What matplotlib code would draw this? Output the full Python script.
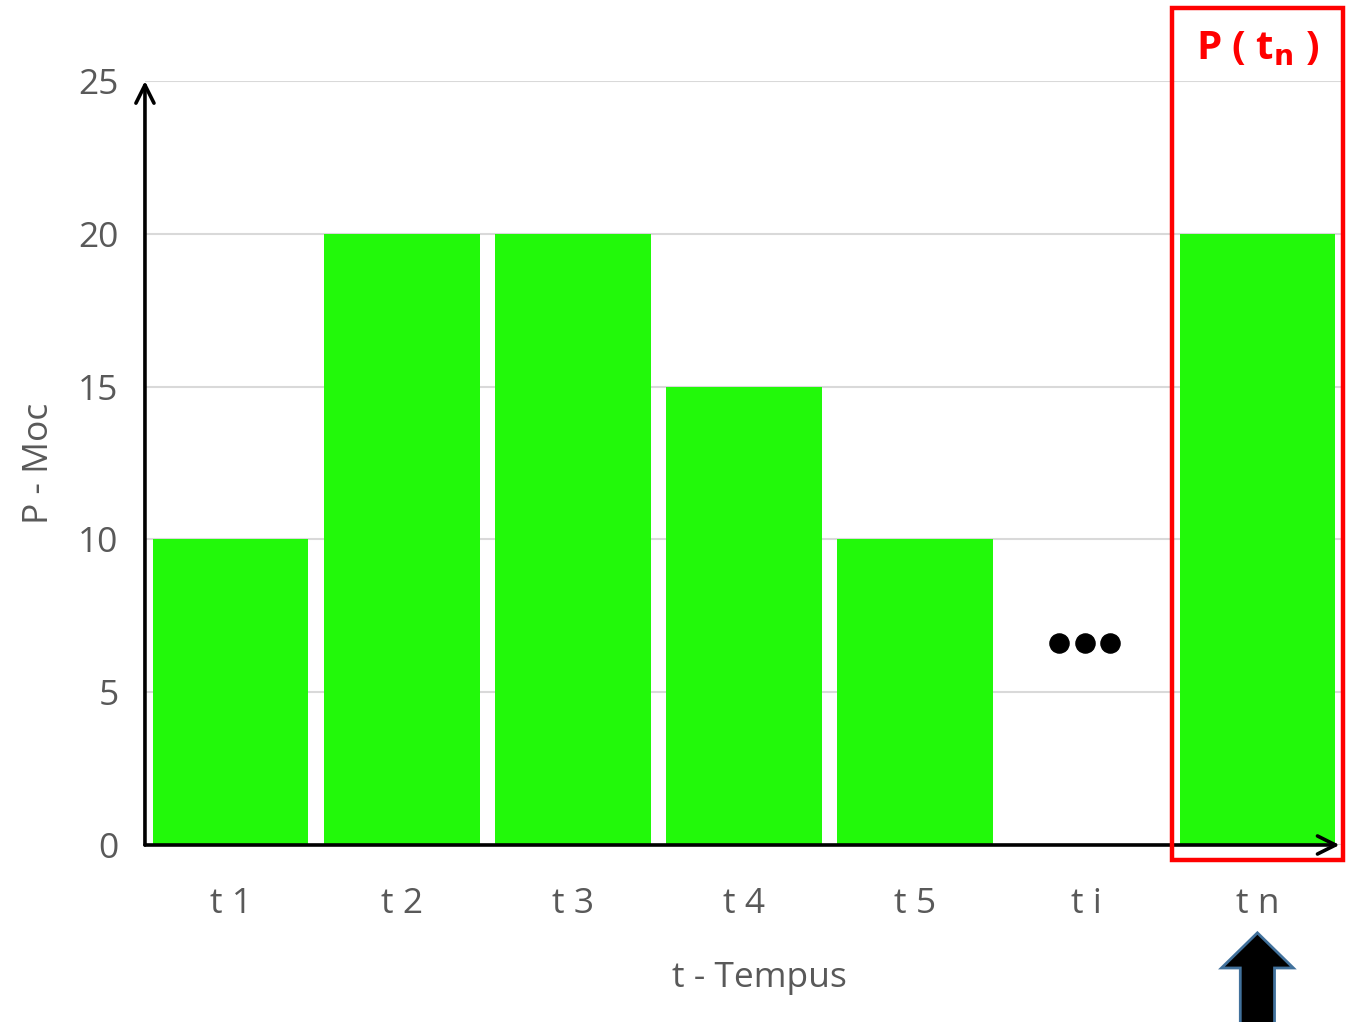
import matplotlib.pyplot as plt
from matplotlib.patches import Rectangle, Polygon
import matplotlib.transforms as mtransforms

plt.rcParams['font.family'] = ['Open Sans', 'DejaVu Sans']

# Data
categories = ['t 1', 't 2', 't 3', 't 4', 't 5', 't i', 't n']
values = [10, 20, 20, 15, 10, None, 20]
dots_level = 6.6      # height of the "..." marker at t i
dots_index = 5
highlight_index = 6

bar_color = '#22F90A'
gray = '#595959'

fig = plt.figure(figsize=(13.56, 10.22), dpi=100)
ax = fig.add_axes([0.1069, 0.1732, 0.8835, 0.7475])

# Bars
xs = [i for i, v in enumerate(values) if v is not None]
hs = [v for v in values if v is not None]
ax.bar(xs, hs, width=0.91, color=bar_color, zorder=2)

# The "..." in place of the t i bar
ax.scatter([dots_index - 0.16, dots_index - 0.01, dots_index + 0.14], [dots_level] * 3,
           s=190, color='black', zorder=3)

ax.set_xlim(-0.5, len(categories) - 0.5)
ax.set_ylim(0, 25)
ax.set_yticks([0, 5, 10, 15, 20, 25])
ax.set_xticks(range(len(categories)))
ax.set_xticklabels(categories)
ax.tick_params(axis='both', length=0, labelsize=25.5, colors=gray)
ax.tick_params(axis='y', pad=19)
ax.tick_params(axis='x', pad=30)
ax.grid(axis='y', color='#D9D9D9', linewidth=1.5, zorder=0)
for s in ax.spines.values():
    s.set_visible(False)

ax.set_xlabel('t - Tempus', fontsize=25.5, color=gray)
ax.xaxis.set_label_coords(0.513, -0.152)
ax.set_ylabel('P - Moc', fontsize=25.5, color=gray)
ax.yaxis.set_label_coords(-0.074, 0.5)

# Axis arrows
arrow_style = '->,head_length=1.3,head_width=0.65'
ax.annotate('', xy=(-0.5, 25.0), xytext=(-0.5, 0), xycoords='data',
            arrowprops=dict(arrowstyle=arrow_style, color='black',
                            lw=2.6, shrinkA=0, shrinkB=0), annotation_clip=False, zorder=5)
ax.annotate('', xy=(6.48, 0), xytext=(-0.5, 0), xycoords='data',
            arrowprops=dict(arrowstyle=arrow_style, color='black',
                            lw=2.6, shrinkA=0, shrinkB=0), annotation_clip=False, zorder=5)

# Red highlight box around t n
ax.add_patch(Rectangle((highlight_index - 0.5, -0.5), 1.0, 27.9, fill=False,
                       edgecolor='#FF0000', linewidth=3.2, clip_on=False, zorder=6))
ax.text(highlight_index, 26.05, r'P ( t$_{\mathbf{n}}$ )', color='#FF0000', fontsize=29,
        fontweight='bold', ha='center', va='center', zorder=7)

# Black pointer arrow under t n
trans = mtransforms.blended_transform_factory(ax.transData, ax.transAxes)
sw, hw = 0.10, 0.21
arrow_pts = [(highlight_index - sw, -0.24), (highlight_index - sw, -0.161),
             (highlight_index - hw, -0.161), (highlight_index, -0.115),
             (highlight_index + hw, -0.161), (highlight_index + sw, -0.161),
             (highlight_index + sw, -0.24)]
ax.add_patch(Polygon(arrow_pts, closed=True, facecolor='black', edgecolor='#41719C',
                     linewidth=2, transform=trans, clip_on=False, zorder=6))

fig.savefig('out.png', dpi=100)
